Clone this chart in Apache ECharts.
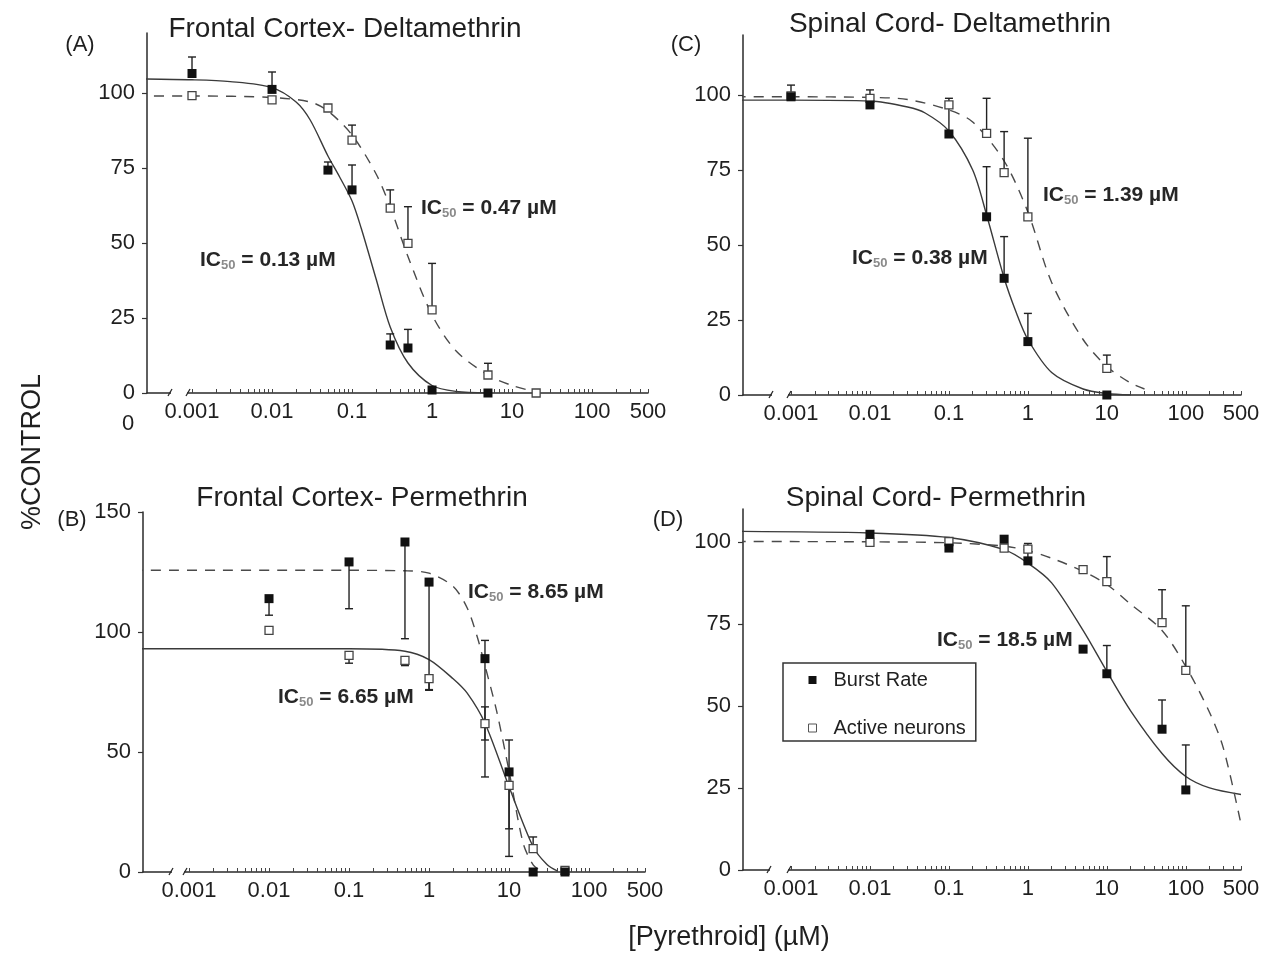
<!DOCTYPE html>
<html>
<head>
<meta charset="utf-8">
<script src="https://cdn.jsdelivr.net/npm/echarts@6/dist/echarts.min.js"></script>
<style>
  html, body { margin: 0; background: #fff; }
  #chart { width: 1265px; height: 956px; }
</style>
</head>
<body>
<div id="chart"></div>
<script>
// ---- tick labels ----
var xTickValues = [0.001, 0.01, 0.1, 1, 10, 100, 500];
var xTickLabels = ['0.001', '0.01', '0.1', '1', '10', '100', '500'];
var yTicks100 = [0, 25, 50, 75, 100];
var yTicks150 = [0, 50, 100, 150];

// ---- (A) frontal cortex, deltamethrin ----
var aDose = [0.001, 0.01, 0.05, 0.1, 0.3, 0.5, 1, 5];
var aBurst = [106.5, 101.2, 74.3, 67.7, 16, 15, 1, 0];
var aBurstHi = [112, 107, 77, 76, 19.7, 21.2, null, null];
var aActiveDose = [0.001, 0.01, 0.05, 0.1, 0.3, 0.5, 1, 5, 20];
var aActive = [99.1, 97.7, 95, 84.3, 61.6, 49.9, 27.7, 6, 0];
var aActiveHi = [null, null, null, 89.3, 67.7, 62.1, 43.2, 9.9, null];
var aBurstFit = [[0.0002, 104.7], [0.001, 104.4], [0.003, 103.8], [0.01, 101.8], [0.02, 97], [0.03, 91], [0.05, 79], [0.07, 72], [0.1, 64], [0.13, 55], [0.2, 38], [0.3, 22], [0.5, 10], [1, 2.5], [2, 0.5], [5, 0]];
var aActiveFit = [[0.0002, 99], [0.001, 99], [0.01, 98.5], [0.03, 97], [0.05, 94], [0.1, 86], [0.2, 73], [0.3, 62], [0.5, 45.5], [1, 26], [2, 14], [5, 6], [10, 2.5], [20, 0.3]];

// ---- (C) spinal cord, deltamethrin ----
var cDose = [0.001, 0.01, 0.1, 0.3, 0.5, 1, 10];
var cBurst = [99.4, 96.7, 87, 59.4, 38.9, 17.8, 0];
var cBurstHi = [103.3, null, 96, 76.1, 52.8, 27.2, null];
var cActive = [99.7, 98.9, 96.7, 87.2, 74.1, 59.4, 8.9];
var cActiveHi = [null, 101.7, 98.9, 98.9, 87.8, 85.6, 13.3];
var cBurstFit = [[0.0002, 98.3], [0.001, 98.3], [0.01, 98], [0.03, 96], [0.05, 94], [0.1, 88], [0.2, 75], [0.3, 60], [0.5, 39], [0.7, 28], [1, 18.5], [2, 7.5], [5, 2], [10, 0.5], [20, 0]];
var cActiveFit = [[0.0002, 99.4], [0.001, 99.4], [0.01, 99.2], [0.03, 98.5], [0.1, 95], [0.2, 91], [0.5, 78], [1, 61], [2, 37.5], [5, 18.5], [10, 9.5], [20, 4], [30, 2]];

// ---- (B) frontal cortex, permethrin ----
var bDose = [0.01, 0.1, 0.5, 1, 5, 10, 20, 50];
var bBurst = [113.9, 129.2, 137.5, 120.8, 88.9, 41.7, 0, 0];
var bBurstLo = [107, 109.7, 97.2, 75.7, 39.6, 6.5, null, null];
var bBurstHi = [null, null, null, null, 96.5, 55, null, null];
var bActive = [100.7, 90.3, 88.2, 80.6, 61.8, 36.1, 9.7, 0.7];
var bActiveLo = [null, 87, 86, 76, 55, 18, null, null];
var bActiveHi = [null, null, null, null, 68.8, null, 14.6, null];
var bBurstFit = [[0.0002, 125.7], [0.1, 125.7], [0.5, 125.5], [1, 124.5], [2, 119], [3, 110], [4, 98], [5, 86], [7, 67], [10, 42], [15, 12], [20, 3], [25, 0.5]];
var bActiveFit = [[0.0002, 93], [0.1, 93], [0.5, 92], [1, 88.5], [2, 80.5], [3, 74.5], [5, 62], [10, 35.5], [20, 10.5], [30, 3], [40, 0.5]];

// ---- (D) spinal cord, permethrin ----
var dDose = [0.01, 0.1, 0.5, 1, 5, 10, 50, 100];
var dBurst = [102.3, 98.1, 100.8, 94.2, 67.3, 59.8, 42.9, 24.4];
var dBurstHi = [null, null, null, 98.6, null, 68.4, 51.8, 38.1];
var dActive = [99.8, 100.1, 98.1, 97.8, 91.5, 87.9, 75.4, 60.8];
var dActiveHi = [null, null, null, 99.5, null, 95.5, 85.4, 80.5];
var dBurstFit = [[0.0002, 103.2], [0.01, 102.7], [0.1, 101.3], [0.5, 97.6], [1, 93.5], [2, 87.5], [5, 73], [10, 60.5], [20, 48.5], [50, 35.5], [100, 28.5], [200, 25], [500, 23]];
var dActiveFit = [[0.0002, 100.1], [0.01, 100], [0.1, 99.7], [0.5, 98.7], [1, 97.3], [2, 95], [5, 91], [10, 87], [20, 81], [50, 73], [100, 62], [200, 48], [300, 37], [500, 14]];

var FONT = '"Liberation Sans", Arial, Helvetica, sans-serif';
var INK = '#1f1f1f';
var LINE = '#3a3a3a';
var lg = Math.log10;
var XMAX = lg(500);

var chart = echarts.init(document.getElementById('chart'));

// panel layout: grid box in px, left end of x axis (log10), top of y axis
var panels = [
  { left: 147, top: 33, width: 501, height: 360, xmin: -3.5625, ymax: 120, yt: yTicks100 },  // A
  { left: 743, top: 35, width: 498, height: 360, xmin: -3.608, ymax: 120, yt: yTicks100 },   // C
  { left: 143, top: 512, width: 502, height: 360, xmin: -3.575, ymax: 150, yt: yTicks150 },  // B
  { left: 743, top: 509, width: 498, height: 361, xmin: -3.608, ymax: 110, yt: yTicks100 }   // D
];

function logTicks() {
  var t = [];
  for (var d = -3; d <= 2; d++) {
    for (var m = 1; m <= 9; m++) {
      var v = lg(m) + d;
      if (v <= XMAX + 1e-9) t.push(v);
    }
  }
  return t;
}

function pts(dose, vals) {
  return dose.map(function (d, i) { return [lg(d), vals[i]]; });
}
function fit(pairs) {
  return pairs.map(function (p) { return [lg(p[0]), p[1]]; });
}
function errData(dose, vals, lo, hi) {
  var out = [];
  dose.forEach(function (d, i) {
    var l = lo ? lo[i] : null, h = hi ? hi[i] : null;
    if (l == null && h == null) return;
    out.push([lg(d), l == null ? vals[i] : l, h == null ? vals[i] : h, l == null ? 0 : 1, h == null ? 0 : 1]);
  });
  return out;
}

function renderErr(params, api) {
  var x = api.value(0);
  var lo = api.coord([x, api.value(1)]);
  var hi = api.coord([x, api.value(2)]);
  var st = { stroke: '#222', lineWidth: 1.4 };
  var kids = [{ type: 'line', shape: { x1: lo[0], y1: lo[1], x2: hi[0], y2: hi[1] }, style: st }];
  if (api.value(3)) kids.push({ type: 'line', shape: { x1: lo[0] - 4, y1: lo[1], x2: lo[0] + 4, y2: lo[1] }, style: st });
  if (api.value(4)) kids.push({ type: 'line', shape: { x1: hi[0] - 4, y1: hi[1], x2: hi[0] + 4, y2: hi[1] }, style: st });
  return { type: 'group', children: kids };
}

var grids = [], xAxes = [], yAxes = [], series = [];
panels.forEach(function (p, i) {
  grids.push({ left: p.left, top: p.top, width: p.width, height: p.height, outerBoundsMode: 'none' });
  xAxes.push({
    type: 'value', gridIndex: i, min: p.xmin, max: XMAX,
    splitLine: { show: false },
    axisLine: { show: true, onZero: false, lineStyle: { color: '#2a2a2a', width: 1.5 } },
    axisTick: { show: true, inside: true, length: 4, customValues: logTicks(), lineStyle: { color: '#444', width: 1 } },
    axisLabel: {
      customValues: xTickValues.map(lg), margin: 8, fontSize: 22, color: INK, fontFamily: FONT,
      formatter: function (v) {
        for (var k = 0; k < xTickValues.length; k++) {
          if (Math.abs(lg(xTickValues[k]) - v) < 1e-6) return xTickLabels[k];
        }
        return '';
      }
    }
  });
  yAxes.push({
    type: 'value', gridIndex: i, min: 0, max: p.ymax,
    splitLine: { show: false },
    axisLine: { show: true, onZero: false, lineStyle: { color: '#2a2a2a', width: 1.5 } },
    axisTick: { show: true, length: 5, customValues: p.yt, lineStyle: { color: '#333', width: 1.2 } },
    axisLabel: { customValues: p.yt, margin: 12, fontSize: 22, color: INK, fontFamily: FONT }
  });
});

var solid = { color: LINE, width: 1.4, type: 'solid' };
var dashed = { color: '#4a4a4a', width: 1.4, type: [10, 8] };

function addPanel(i, burstFit, activeFit, burstDashed, dose, burst, bLo, bHi, adose, active, aLo, aHi) {
  series.push({
    type: 'line', xAxisIndex: i, yAxisIndex: i, data: fit(burstFit), showSymbol: false,
    smooth: 0.3, lineStyle: burstDashed ? dashed : solid, z: 2, silent: true
  });
  series.push({
    type: 'line', xAxisIndex: i, yAxisIndex: i, data: fit(activeFit), showSymbol: false,
    smooth: 0.3, lineStyle: burstDashed ? solid : dashed, z: 2, silent: true
  });
  series.push({
    type: 'custom', xAxisIndex: i, yAxisIndex: i, renderItem: renderErr, encode: { x: 0, y: [1, 2] },
    data: errData(dose, burst, bLo, bHi).concat(errData(adose, active, aLo, aHi)), z: 3, silent: true
  });
  series.push({
    name: 'Active neurons', type: 'scatter', xAxisIndex: i, yAxisIndex: i, data: pts(adose, active),
    symbol: 'rect', symbolSize: 8, itemStyle: { color: '#fff', borderColor: '#444', borderWidth: 1.3, opacity: 1 }, z: 4
  });
  series.push({
    name: 'Burst Rate', type: 'scatter', xAxisIndex: i, yAxisIndex: i, data: pts(dose, burst),
    symbol: 'rect', symbolSize: 9, itemStyle: { color: '#111', opacity: 1 }, z: 5
  });
}

addPanel(0, aBurstFit, aActiveFit, false, aDose, aBurst, null, aBurstHi, aActiveDose, aActive, null, aActiveHi);
addPanel(1, cBurstFit, cActiveFit, false, cDose, cBurst, null, cBurstHi, cDose, cActive, null, cActiveHi);
addPanel(2, bBurstFit, bActiveFit, true, bDose, bBurst, bBurstLo, bBurstHi, bDose, bActive, bActiveLo, bActiveHi);
addPanel(3, dBurstFit, dActiveFit, false, dDose, dBurst, null, dBurstHi, dDose, dActive, null, dActiveHi);

function txt(x, y, s, size, align, extra) {
  var el = { type: 'text', x: x, y: y, z: 50,
    style: { text: s, font: size + 'px ' + FONT, fill: INK, textAlign: align || 'center', textVerticalAlign: 'middle' } };
  if (extra) for (var k in extra) el[k] = extra[k];
  return el;
}
function ic50(x, y, val) {
  return { type: 'text', x: x, y: y, z: 50,
    style: {
      text: '{m|IC}{s|50}{m| = ' + val + ' \u00b5M}', textAlign: 'left', textVerticalAlign: 'middle',
      rich: {
        m: { fontSize: 21, fontWeight: 'bold', fontFamily: FONT, fill: '#262626', color: '#262626', lineHeight: 24 },
        s: { fontSize: 13, fontWeight: 'bold', fontFamily: FONT, fill: '#8a8a8a', color: '#8a8a8a', verticalAlign: 'bottom' }
      }
    } };
}
function axisBreak(y, x1, x2) {
  var st = { stroke: '#2a2a2a', lineWidth: 1.3 };
  return [
    { type: 'rect', z: 60, shape: { x: x1 + 1, y: y - 3, width: x2 - x1 - 2, height: 6 }, style: { fill: '#fff' } },
    { type: 'line', z: 61, shape: { x1: x1 - 2, y1: y + 3, x2: x1 + 2, y2: y - 4 }, style: st },
    { type: 'line', z: 61, shape: { x1: x2 - 2, y1: y + 3, x2: x2 + 2, y2: y - 4 }, style: st }
  ];
}

var elements = [
  txt(80, 45, '(A)', 22), txt(345, 29, 'Frontal Cortex- Deltamethrin', 28),
  txt(686, 45, '(C)', 22), txt(950, 24, 'Spinal Cord- Deltamethrin', 28),
  txt(72, 520, '(B)', 22), txt(362, 498, 'Frontal Cortex- Permethrin', 28),
  txt(668, 520, '(D)', 22), txt(936, 498, 'Spinal Cord- Permethrin', 28),
  txt(128, 424, '0', 22),
  txt(33, 452, '%CONTROL', 27, 'center', { rotation: Math.PI / 2 }),
  txt(729, 938, '[Pyrethroid] (\u00b5M)', 27),
  ic50(421, 208, '0.47'), ic50(200, 260, '0.13'),
  ic50(1043, 195, '1.39'), ic50(852, 258, '0.38'),
  ic50(468, 592, '8.65'), ic50(278, 697, '6.65'),
  ic50(937, 640, '18.5')
];
elements = elements
  .concat(axisBreak(393, 170, 188))
  .concat(axisBreak(395, 771, 789))
  .concat(axisBreak(872, 171, 185))
  .concat(axisBreak(870, 769, 789));

chart.setOption({
  backgroundColor: '#fff',
  animation: false,
  grid: grids,
  xAxis: xAxes,
  yAxis: yAxes,
  legend: {
    left: 783, top: 663, orient: 'vertical', selectedMode: false,
    padding: [7, 10, 3, 25], itemGap: 28, itemWidth: 8, itemHeight: 8,
    borderColor: '#333', borderWidth: 1.5, backgroundColor: '#fff',
    textStyle: { fontSize: 20, color: INK, fontFamily: FONT, padding: [0, 0, 0, 12] },
    data: [
      { name: 'Burst Rate', icon: 'rect', itemStyle: { color: '#111' } },
      { name: 'Active neurons', icon: 'rect', itemStyle: { color: '#fff', borderColor: '#555', borderWidth: 1 } }
    ]
  },
  graphic: { elements: elements },
  series: series
});
</script>
</body>
</html>
